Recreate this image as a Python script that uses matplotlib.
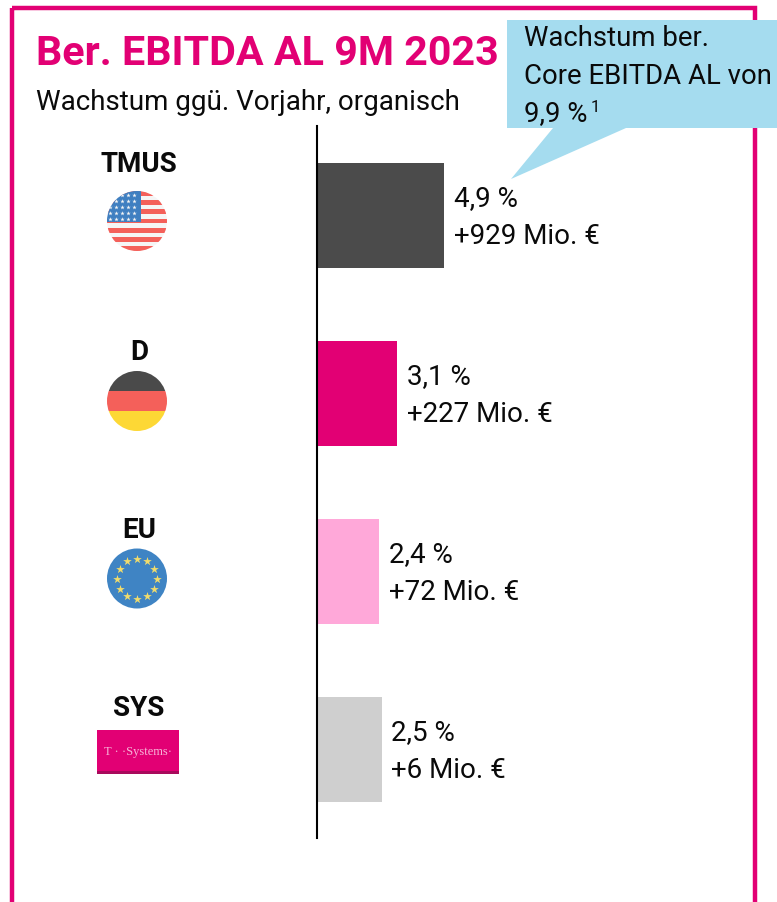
import numpy as np
import matplotlib
matplotlib.use('Agg')
import matplotlib.pyplot as plt
from matplotlib.patches import Circle, Rectangle, Polygon

plt.rcParams['font.family'] = ['Roboto', 'DejaVu Sans']

segments = ['TMUS', 'D', 'EU', 'SYS']
growth = [4.9, 3.1, 2.4, 2.5]
growth_labels = ['4,9 %', '3,1 %', '2,4 %', '2,5 %']
delta_labels = ['+929 Mio. €', '+227 Mio. €', '+72 Mio. €', '+6 Mio. €']
bar_colors = ['#4b4b4b', '#e20074', '#ffa8d9', '#cfcfcf']

W, H = 777, 902
MAGENTA = '#e20074'
TEXT = '#0a0a0a'
fig = plt.figure(figsize=(W / 100, H / 100), dpi=100)

# overlay in pixel coordinates for frame, flags, callout
bg = fig.add_axes([0, 0, 1, 1])
bg.set_xlim(0, W)
bg.set_ylim(H, 0)
bg.axis('off')

# bar axes: 25.9 px per percent, left edge at x=317
ax = fig.add_axes([317 / W, (H - 838) / H, 460 / W, (838 - 126) / H])
ax.patch.set_alpha(0)
ax.set_xlim(0, 460 / 25.9)
ax.set_ylim(3.5, -0.5)
ax.barh(range(len(segments)), growth, height=105 / 178, color=bar_colors)
for s in ['top', 'right', 'bottom']:
    ax.spines[s].set_visible(False)
ax.spines['left'].set_linewidth(1.5)
ax.spines['left'].set_color('black')
ax.set_xticks([])
ax.set_yticks([])

for i, v in enumerate(growth):
    ax.annotate(growth_labels[i], (v, i), xytext=(7, 12.2), textcoords='offset points',
                fontsize=20, va='center', ha='left', color=TEXT)
    ax.annotate(delta_labels[i], (v, i), xytext=(7, -15.3), textcoords='offset points',
                fontsize=20, va='center', ha='left', color=TEXT)

# frame
bg.add_patch(Rectangle((12, 8), 743, 920, fill=False, ec=MAGENTA, lw=3.2, clip_on=True))

# title
bg.text(36, 54, 'Ber. EBITDA AL 9M 2023', fontsize=29.7, fontweight='bold', color=MAGENTA, va='center', ha='left')
bg.text(36, 103, 'Wachstum ggü. Vorjahr, organisch', fontsize=20, color=TEXT, va='center', ha='left')

# callout
bg.add_patch(Rectangle((507, 20), 270, 108, fc='#a5dcef', ec='none', zorder=3))
bg.add_patch(Polygon([(553, 128), (626, 128), (511, 179)], fc='#a5dcef', ec='none', zorder=3))
for y, line in zip([39, 77, 114], ['Wachstum ber.', 'Core EBITDA AL von', '9,9 %']):
    bg.text(524, y, line, fontsize=19.8, color=TEXT, va='center', ha='left', zorder=4)
bg.text(591, 107, '1', fontsize=12, color=TEXT, va='center', ha='left', zorder=4)

# segment names
for name, y in zip(segments, [164, 352, 530, 708]):
    bg.text(139, y, name, fontsize=20, fontweight='bold', color=TEXT, va='center', ha='center')

# US flag
cx, cy, r = 137, 221, 30
clip = Circle((cx, cy), r, transform=bg.transData)
bg.add_patch(Rectangle((cx - r, cy - r), 2 * r, 2 * r, fc='#f5f5f5', ec='none', clip_path=clip))
for k in range(7):
    bg.add_patch(Rectangle((cx - r, cy - r + k * 2 * r / 6.5), 2 * r, 2 * r / 13, fc='#f4605a', ec='none', clip_path=clip))
bg.add_patch(Rectangle((cx - r, cy - r), r + 4, r + 1, fc='#3f7fc1', ec='none', clip_path=clip))
sx, sy = np.meshgrid(np.arange(cx - r + 3, cx + 3, 6), np.arange(cy - r + 4, cy, 6))
stars = bg.scatter(sx.ravel(), sy.ravel(), s=11, marker='*', c='#f5f5f5', linewidths=0)
stars.set_clip_path(clip)

# German flag
cx, cy = 137, 401
clip = Circle((cx, cy), r, transform=bg.transData)
for k, c in enumerate(['#4a4a4a', '#f4605a', '#fdd835']):
    bg.add_patch(Rectangle((cx - r, cy - r + k * 20), 2 * r, 20, fc=c, ec='none', clip_path=clip))

# EU flag
cx, cy = 137, 578.5
bg.add_patch(Circle((cx, cy), r, fc='#3f84c4', ec='none'))
ang = np.deg2rad(np.arange(0, 360, 30))
bg.scatter(cx + 20 * np.cos(ang), cy + 20 * np.sin(ang), s=42, marker='*', c='#f2dc6b', linewidths=0)

# T-Systems logo
bg.add_patch(Rectangle((97, 730), 82, 44, fc='#e20074', ec='none'))
bg.add_patch(Rectangle((97, 771), 82, 3, fc='#a80a5c', ec='none'))
bg.text(138, 752, 'T · ·Systems·', fontsize=9, family='Liberation Serif', color='#f7b5d8', va='center', ha='center')

fig.savefig('out.png', dpi=100)
